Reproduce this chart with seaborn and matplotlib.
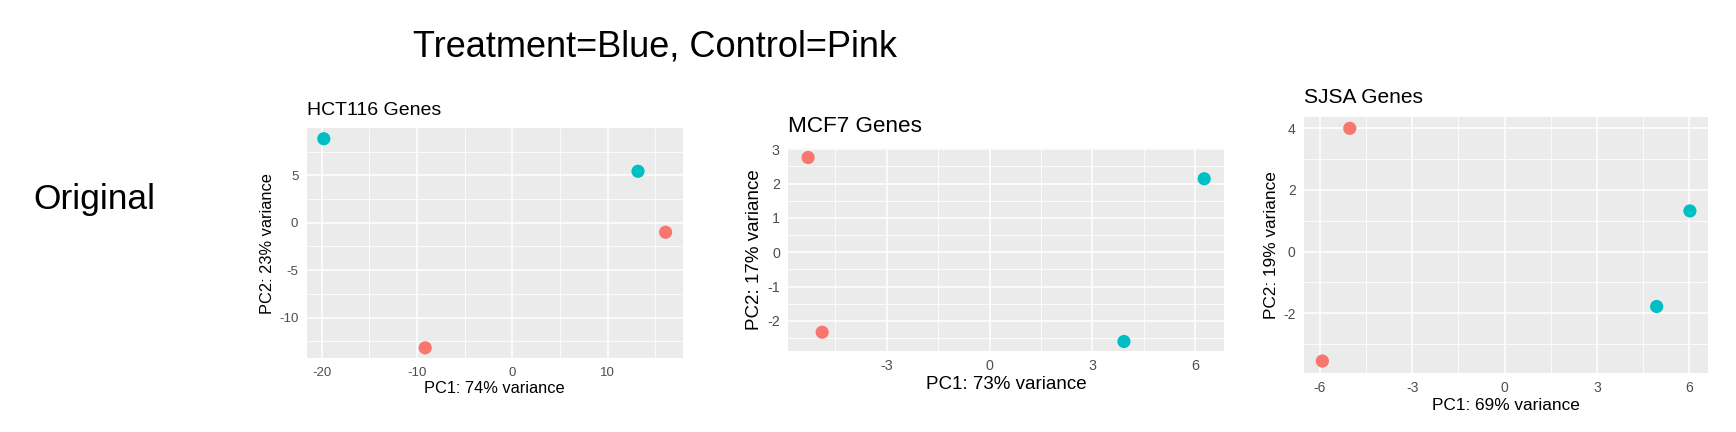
import matplotlib
matplotlib.use("Agg")
import matplotlib.pyplot as plt
import seaborn as sns
import pandas as pd
from matplotlib.ticker import MultipleLocator

# ---- data ----
groups = ["Treatment", "Treatment", "Control", "Control"]

hct_pc1 = [-19.8, 13.2, 16.1, -9.15]
hct_pc2 = [8.85, 5.42, -1.01, -13.2]

mcf_pc1 = [6.26, 3.92, -5.29, -4.88]
mcf_pc2 = [2.14, -2.60, 2.76, -2.33]

sjsa_pc1 = [6.02, 4.94, -5.03, -5.92]
sjsa_pc2 = [1.32, -1.78, 4.00, -3.55]

titles = ["HCT116 Genes", "MCF7 Genes", "SJSA Genes"]
xlabels = ["PC1: 74% variance", "PC1: 73% variance", "PC1: 69% variance"]
ylabels = ["PC2: 23% variance", "PC2: 17% variance", "PC2: 19% variance"]

palette = {"Control": "#F8766D", "Treatment": "#00BFC4"}

sns.set_theme(style="white")
plt.rcParams["font.family"] = ["Liberation Sans", "DejaVu Sans"]
plt.rcParams["axes.unicode_minus"] = False

W, H = 1736, 432
fig = plt.figure(figsize=(W / 100, H / 100), dpi=100)

def px_axes(l, t, r, b):
    return fig.add_axes([l / W, 1 - b / H, (r - l) / W, (b - t) / H])

panels = [
    dict(box=(306.7, 128.3, 682.7, 358.3), x=hct_pc1, y=hct_pc2,
         xmaj=10, ymaj=5, tsize=14, lsize=11.8, tpad=9.5, ticks=9.5),
    dict(box=(788.3, 148.3, 1224, 350.7), x=mcf_pc1, y=mcf_pc2,
         xmaj=3, ymaj=1, tsize=16.2, lsize=13.5, tpad=11.5, ticks=10.3),
    dict(box=(1304, 116.7, 1708.3, 372.7), x=sjsa_pc1, y=sjsa_pc2,
         xmaj=3, ymaj=2, tsize=15.1, lsize=12.4, tpad=9.7, ticks=10),
]

for i, p in enumerate(panels):
    ax = px_axes(*p["box"])
    df = pd.DataFrame({"PC1": p["x"], "PC2": p["y"], "group": groups})
    sns.scatterplot(data=df, x="PC1", y="PC2", hue="group", palette=palette,
                    s=90, edgecolor="none", legend=False, ax=ax, zorder=3)
    ax.set_facecolor("#EBEBEB")
    for sp in ax.spines.values():
        sp.set_visible(False)
    xr = max(p["x"]) - min(p["x"])
    yr = max(p["y"]) - min(p["y"])
    ax.set_xlim(min(p["x"]) - 0.05 * xr, max(p["x"]) + 0.05 * xr)
    ax.set_ylim(min(p["y"]) - 0.05 * yr, max(p["y"]) + 0.05 * yr)
    ax.xaxis.set_major_locator(MultipleLocator(p["xmaj"]))
    ax.yaxis.set_major_locator(MultipleLocator(p["ymaj"]))
    ax.xaxis.set_minor_locator(MultipleLocator(p["xmaj"] / 2))
    ax.yaxis.set_minor_locator(MultipleLocator(p["ymaj"] / 2))
    ax.grid(which="major", color="white", linewidth=1.1, zorder=0)
    ax.grid(which="minor", color="white", linewidth=0.55, zorder=0)
    ax.set_axisbelow(True)
    ax.tick_params(which="major", length=3, width=0.8, color="#333333",
                   labelsize=p["ticks"], labelcolor="#4D4D4D", pad=3)
    ax.tick_params(which="minor", length=0)
    ax.set_xlabel(xlabels[i], fontsize=p["lsize"], color="black", labelpad=2)
    ax.set_ylabel(ylabels[i], fontsize=p["lsize"], color="black", labelpad=3)
    ax.set_title(titles[i], loc="left", fontsize=p["tsize"], color="black", pad=p["tpad"])

fig.text(413 / W, 1 - 56.7 / H, "Treatment=Blue, Control=Pink", fontsize=26,
         ha="left", va="baseline", color="black")
fig.text(33 / W, 1 - 209.3 / H, "Original", fontsize=25.5,
         ha="left", va="baseline", color="black")

fig.savefig("out.png", dpi=100, facecolor="white")
